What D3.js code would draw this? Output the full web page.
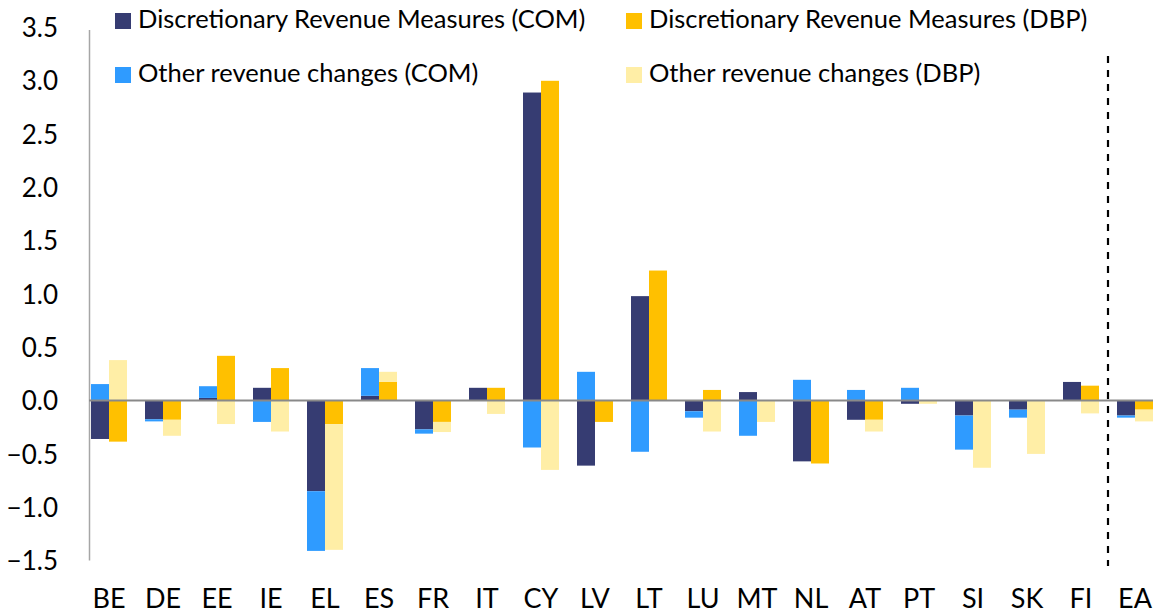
<!DOCTYPE html>
<html>
<head>
<meta charset="utf-8">
<script src="https://cdn.jsdelivr.net/npm/d3@7"></script>
<style>
  html, body { margin: 0; padding: 0; background: #ffffff; }
  svg { display: block; }
  text { font-family: "Lato", "Open Sans", sans-serif; fill: #000; }
</style>
</head>
<body>
<svg id="chart" width="1153" height="616"></svg>
<script>
const categories = ["BE","DE","EE","IE","EL","ES","FR","IT","CY","LV","LT","LU","MT","NL","AT","PT","SI","SK","FI","EA"];
const discCOM  = [-0.36,-0.175, 0.025, 0.12,-0.85, 0.045,-0.27, 0.12, 2.89,-0.61, 0.98,-0.10, 0.08,-0.57,-0.18,-0.03,-0.14,-0.085, 0.175,-0.14];
const otherCOM = [ 0.155,-0.02, 0.11,-0.20,-0.56, 0.26,-0.04, 0.00,-0.44, 0.27,-0.48,-0.06,-0.33, 0.195, 0.10, 0.12,-0.32,-0.075, 0.00,-0.02];
const discDBP  = [-0.385,-0.18, 0.42, 0.305,-0.22, 0.175,-0.20, 0.12, 3.00,-0.20, 1.22, 0.10, 0.00,-0.59,-0.18, 0.00, 0.00, 0.00, 0.14,-0.085];
const otherDBP = [ 0.38,-0.15,-0.22,-0.29,-1.18, 0.095,-0.095,-0.125,-0.65, 0.00, 0.00,-0.29,-0.20, 0.00,-0.11,-0.03,-0.63,-0.50,-0.12,-0.11];
const yTicks = [-1.5,-1.0,-0.5,0.0,0.5,1.0,1.5,2.0,2.5,3.0,3.5];
const seriesNames = ["Discretionary Revenue Measures (COM)","Discretionary Revenue Measures (DBP)","Other revenue changes (COM)","Other revenue changes (DBP)"];
const colors = {discCOM:"#363C72", otherCOM:"#2F9BFF", discDBP:"#FFC000", otherDBP:"#FFEEA6"};

const svg = d3.select("#chart");

const x = d3.scaleBand().domain(categories).range([82, 1162]).paddingInner(1/3).paddingOuter(1/6);
const sub = d3.scaleBand().domain(["COM","DBP"]).range([0, x.bandwidth()]).padding(0);
const y = d3.scaleLinear().domain([-1.5, 3.5]).range([560.5, 27.5]);

const rows = categories.map((c, i) => ({cat: c, discCOM: discCOM[i], otherCOM: otherCOM[i], discDBP: discDBP[i], otherDBP: otherDBP[i]}));

const groups = [
  {name: "COM", keys: ["discCOM","otherCOM"]},
  {name: "DBP", keys: ["discDBP","otherDBP"]}
];

const barsG = svg.append("g");
groups.forEach(g => {
  const stacked = d3.stack().keys(g.keys).offset(d3.stackOffsetDiverging)(rows);
  stacked.forEach(layer => {
    barsG.selectAll(null).data(layer).join("rect")
      .attr("x", d => x(d.data.cat) + sub(g.name))
      .attr("width", sub.bandwidth())
      .attr("y", d => y(Math.max(d[0], d[1])))
      .attr("height", d => Math.abs(y(d[0]) - y(d[1])))
      .attr("fill", colors[layer.key]);
  });
});

// y axis line
svg.append("line")
  .attr("x1", 89.5).attr("x2", 89.5)
  .attr("y1", 30).attr("y2", y(-1.5))
  .attr("stroke", "#A6A6A6").attr("stroke-width", 1.5);

// zero line
svg.append("line")
  .attr("x1", 89).attr("x2", 1153)
  .attr("y1", y(0)).attr("y2", y(0))
  .attr("stroke", "#898989").attr("stroke-width", 2);

// y tick labels
const yAxis = d3.axisLeft(y).tickValues(yTicks).tickFormat(d3.format(".1f")).tickSize(0).tickPadding(0);
const yg = svg.append("g").attr("transform", "translate(58,0)").call(yAxis);
yg.select(".domain").remove();
yg.selectAll("text").attr("font-size", 26).attr("font-family", "Lato, sans-serif").attr("fill", "#000").attr("dy", "0.35em");

// x labels
const xAxis = d3.axisBottom(x).tickSize(0).tickPadding(0);
const xg = svg.append("g").attr("transform", "translate(0,608)").call(xAxis);
xg.select(".domain").remove();
xg.selectAll("text").attr("font-size", 27).attr("font-family", "Lato, sans-serif").attr("fill", "#000").attr("y", 0).attr("dy", 0);

// dashed separator between FI and EA
const sepX = (x("FI") + x.bandwidth() + x("EA")) / 2;
svg.append("line")
  .attr("x1", sepX).attr("x2", sepX)
  .attr("y1", 56).attr("y2", 566)
  .attr("stroke", "#000").attr("stroke-width", 2.2)
  .attr("stroke-dasharray", "7,7");

// legend
const legendItems = [
  {name: seriesNames[0], color: colors.discCOM, sx: 115, sy: 13},
  {name: seriesNames[1], color: colors.discDBP, sx: 626, sy: 13},
  {name: seriesNames[2], color: colors.otherCOM, sx: 115, sy: 67},
  {name: seriesNames[3], color: colors.otherDBP, sx: 626, sy: 67}
];
const lg = svg.append("g");
legendItems.forEach(it => {
  lg.append("rect").attr("x", it.sx).attr("y", it.sy).attr("width", 16).attr("height", 16).attr("fill", it.color);
  lg.append("text").attr("x", it.sx + 23).attr("y", it.sy + 15).attr("font-size", 25.5).text(it.name);
});
</script>
</body>
</html>
